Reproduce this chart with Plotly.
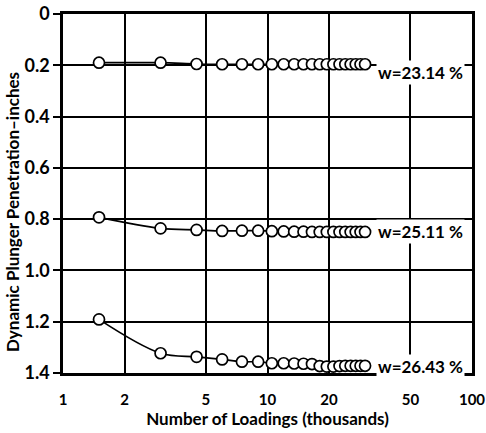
import plotly.graph_objects as go

# Number of loadings (thousands), recorded every 1,500 loadings
loadings = [1.5, 3, 4.5, 6, 7.5, 9, 10.5, 12, 13.5, 15, 16.5, 18, 19.5, 21,
            22.5, 24, 25.5, 27, 28.5, 30]

# Dynamic plunger penetration (inches) for three moisture contents
pen_w2314 = [0.190, 0.190, 0.195, 0.196, 0.196, 0.196, 0.196, 0.196, 0.196, 0.196,
             0.196, 0.196, 0.196, 0.196, 0.196, 0.196, 0.196, 0.196, 0.196, 0.196]
pen_w2511 = [0.793, 0.836, 0.842, 0.846, 0.845, 0.845, 0.847, 0.848, 0.849, 0.849,
             0.850, 0.850, 0.850, 0.850, 0.850, 0.850, 0.850, 0.850, 0.850, 0.850]
pen_w2643 = [1.191, 1.323, 1.337, 1.347, 1.356, 1.356, 1.362, 1.362, 1.363, 1.364,
             1.365, 1.373, 1.375, 1.375, 1.373, 1.372, 1.372, 1.372, 1.372, 1.372]

series_labels = ["w=23.14 %", "w=25.11 %", "w=26.43 %"]
label_y = [0.23, 0.849, 1.373]

x_ticks = [1, 2, 5, 10, 20, 50, 100]
x_ticktext = ["1", "2", "5", "10", "20", "50", "100"]
y_ticks = [0, 0.2, 0.4, 0.6, 0.8, 1.0, 1.2, 1.4]
y_ticktext = ["0", "0.2", "0.4", "0.6", "0.8", "1.0", "1.2", "1.4"]

FONT = "Lato"

# plot-area geometry in pixels (used to place the rotated y title)
L, R, T, B = 63, 14, 14, 60
W, H = 486, 433
PW, PH = W - L - R, H - T - B

fig = go.Figure()
for ys in (pen_w2314, pen_w2511, pen_w2643):
    fig.add_trace(go.Scatter(
        x=loadings, y=ys, mode="lines+markers",
        line=dict(color="black", width=1.7, shape="spline", smoothing=1.0),
        marker=dict(symbol="circle", size=11, color="white",
                    line=dict(color="black", width=1.7)),
        showlegend=False, cliponaxis=False,
    ))

for txt, yv in zip(series_labels, label_y):
    fig.add_annotation(x=1.746, xref="x", y=yv, yref="y", text=txt,
                       showarrow=False, bgcolor="white", borderpad=1,
                       font=dict(family=FONT, size=17, color="black", weight="bold"))

fig.add_annotation(x=(12 - L) / PW, xref="paper", xanchor="center",
                   y=(T + PH - 212) / PH, yref="paper", yanchor="middle",
                   text="Dynamic Plunger Penetration\u2013inches", textangle=-90,
                   showarrow=False,
                   font=dict(family=FONT, size=17, color="black", weight="bold"))

fig.update_layout(
    width=W, height=H,
    margin=dict(l=L, r=R, t=T, b=B, autoexpand=False),
    paper_bgcolor="white", plot_bgcolor="white",
    font=dict(family=FONT, color="black"),
)

fig.update_xaxes(
    type="log", range=[0, 2], tickvals=x_ticks, ticktext=x_ticktext,
    showgrid=True, gridcolor="black", gridwidth=1.8,
    showline=True, linecolor="black", linewidth=2.5, mirror=True,
    ticks="", zeroline=False, ticklabelstandoff=11, ticklabeloverflow="allow",
    automargin=False,
    tickfont=dict(family=FONT, size=15, color="black", weight="bold"),
    title=dict(text="Number of Loadings (thousands)", standoff=1,
               font=dict(family=FONT, size=17, color="black", weight="bold")),
)
fig.update_yaxes(
    range=[1.4, 0], tickvals=y_ticks, ticktext=y_ticktext,
    showgrid=True, gridcolor="black", gridwidth=1.8,
    showline=True, linecolor="black", linewidth=2.5, mirror=True,
    ticks="outside", ticklen=7, tickwidth=1.8, tickcolor="black", zeroline=False,
    automargin=False,
    tickfont=dict(family=FONT, size=18, color="black", weight="bold"),
)

fig.write_html("out.html")
